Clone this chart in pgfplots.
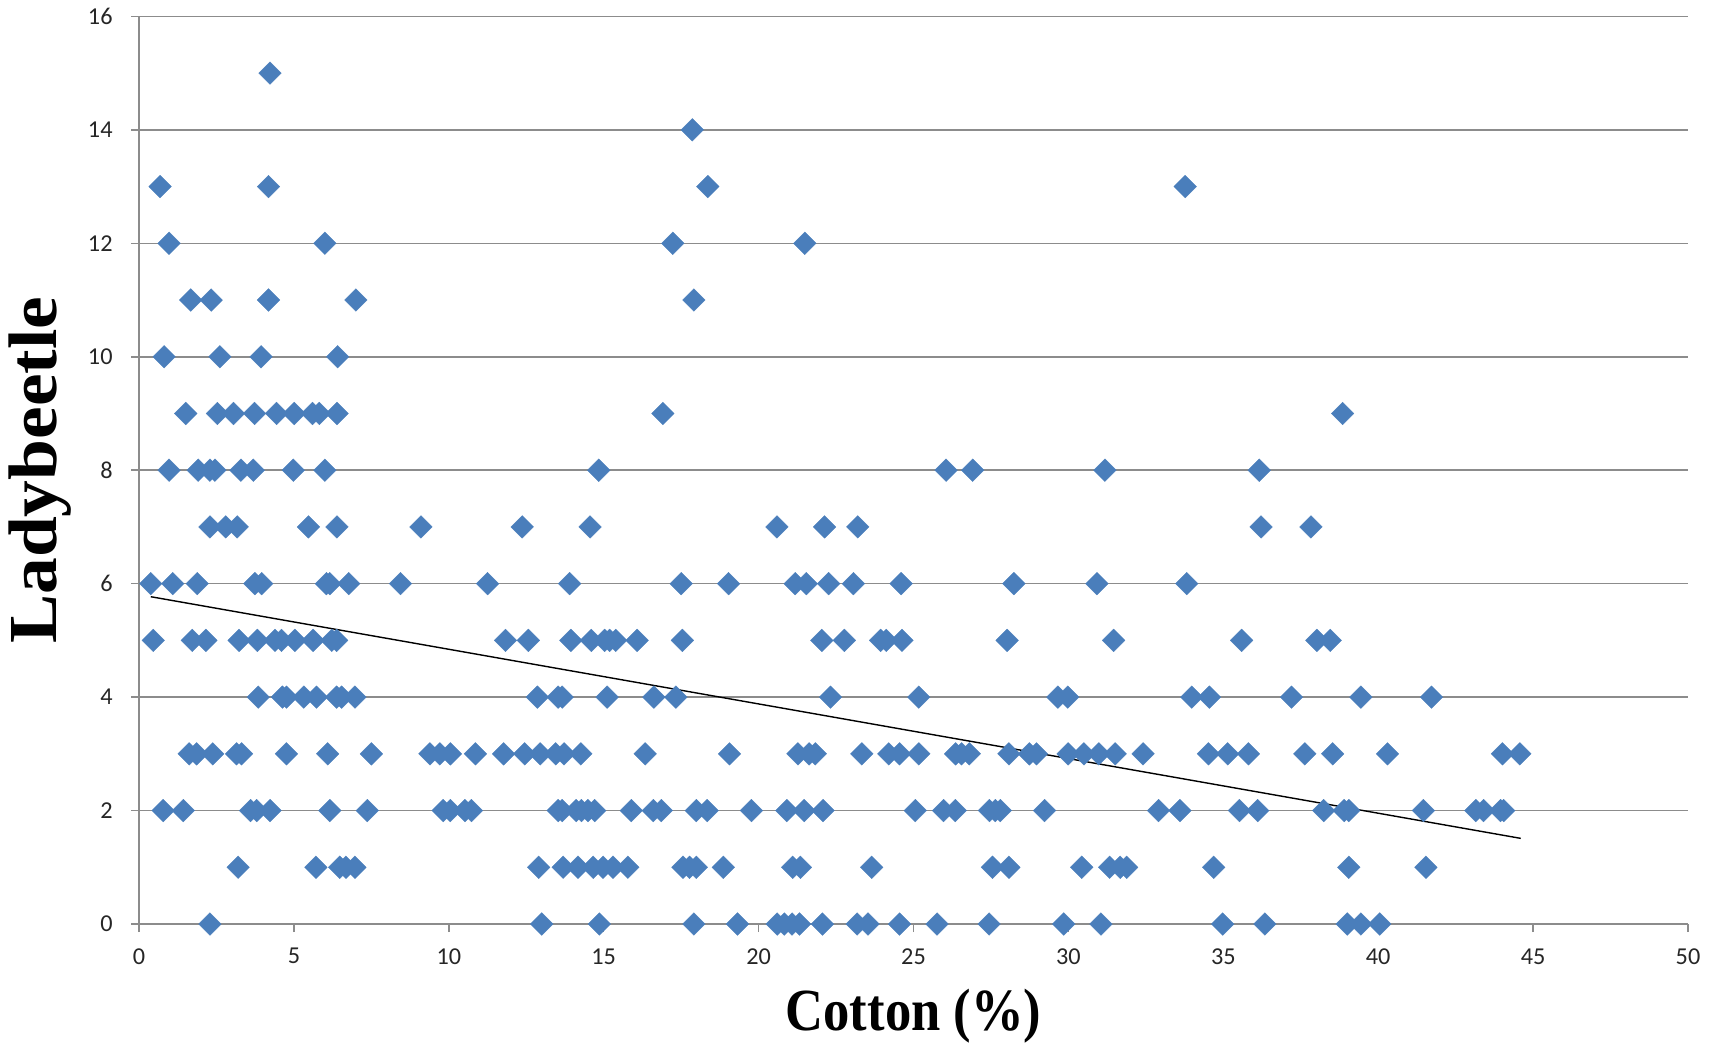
\documentclass[border=0pt]{standalone}
\usepackage{fontspec}
\usepackage{graphicx}
\usepackage{pgfplots}
\pgfplotsset{compat=1.18}
\setmainfont{Liberation Serif}
\newfontfamily\calibri{Carlito}
\definecolor{markblue}{HTML}{4A7EBB}
\definecolor{gridgray}{HTML}{8C8C8C}
\begin{document}
\begin{tikzpicture}
\begin{axis}[
  scale only axis,
  width=154.9mm, height=90.76mm,
  xmin=0, xmax=50, ymin=0, ymax=16,
  xtick={0,5,...,50}, ytick={0,2,...,16},
  axis x line=bottom, axis y line=left,
  axis line style={-, draw=gridgray, line width=0.45pt},
  ymajorgrids=true,
  grid style={draw=gridgray, line width=0.45pt},
  tick align=outside, major tick length=0.8mm,
  tick style={draw=gridgray, line width=0.45pt},
  /pgf/number format/assume math mode=true,
  ticklabel style={font=\calibri\fontsize{6.9}{8}\selectfont, text=black!85},
  xticklabel style={yshift=-0.4mm},
  yticklabel style={xshift=-0.6mm},
  xlabel={\scalebox{0.88}[1]{Cotton (\%)}},
  ylabel={\scalebox{1.23}[1.15]{Ladybeetle}},
  label style={font=\fontsize{17}{20}\selectfont\bfseries},
  xlabel style={at={(axis description cs:0.5,0)}, anchor=center, yshift=-9.2mm},
  ylabel style={at={(axis description cs:-0.0636,0.5)}, anchor=center},
]
\coordinate (ll) at (rel axis cs:0,0);
\coordinate (ur) at (rel axis cs:1,1);
\addplot[only marks, mark=square*, mark size=0.8mm,
  mark options={rotate=45, fill=markblue, draw=markblue, line width=0.1pt}]
coordinates {
(4.23,15)
(17.86,14)
(0.68,13) (4.18,13) (18.36,13) (33.77,13)
(0.97,12) (6.0,12) (17.23,12) (21.49,12)
(1.67,11) (2.33,11) (4.18,11) (7.0,11) (17.91,11)
(0.81,10) (2.61,10) (3.94,10) (6.41,10)
(1.51,9) (2.53,9) (3.05,9) (3.73,9) (4.44,9) (5.01,9) (5.6,9) (5.82,9) (6.39,9) (16.91,9) (38.85,9)
(0.97,8) (1.91,8) (2.29,8) (2.45,8) (3.29,8) (3.69,8) (4.98,8) (6.0,8) (14.84,8) (26.05,8) (26.91,8) (31.18,8) (36.16,8)
(2.29,7) (2.8,7) (3.17,7) (5.47,7) (6.39,7) (9.1,7) (12.37,7) (14.56,7) (20.59,7) (22.13,7) (23.2,7) (36.22,7) (37.83,7)
(0.38,6) (1.09,6) (1.88,6) (3.74,6) (3.96,6) (6.05,6) (6.16,6) (6.77,6) (8.44,6) (11.25,6) (13.9,6) (17.5,6) (19.03,6) (21.18,6) (21.54,6) (22.26,6) (23.06,6) (24.6,6) (28.24,6) (30.92,6) (33.82,6)
(0.46,5) (1.72,5) (2.16,5) (3.23,5) (3.82,5) (4.39,5) (4.6,5) (5.03,5) (5.62,5) (6.22,5) (6.38,5) (11.83,5) (12.57,5) (13.94,5) (14.6,5) (15.03,5) (15.19,5) (15.39,5) (16.08,5) (17.54,5) (22.04,5) (22.77,5) (23.94,5) (24.12,5) (24.63,5) (28.02,5) (31.46,5) (35.59,5) (38.02,5) (38.45,5)
(3.85,4) (4.63,4) (4.76,4) (5.32,4) (5.73,4) (6.38,4) (6.54,4) (6.97,4) (12.86,4) (13.53,4) (13.66,4) (15.11,4) (16.62,4) (17.33,4) (22.32,4) (25.17,4) (29.66,4) (29.98,4) (33.98,4) (34.55,4) (37.2,4) (39.44,4) (41.72,4)
(1.62,3) (1.86,3) (2.38,3) (3.15,3) (3.31,3) (4.76,3) (6.09,3) (7.5,3) (9.39,3) (9.71,3) (10.05,3) (10.86,3) (11.77,3) (12.45,3) (12.95,3) (13.45,3) (13.72,3) (14.26,3) (16.34,3) (19.06,3) (21.27,3) (21.63,3) (21.83,3) (23.33,3) (24.2,3) (24.55,3) (25.17,3) (26.36,3) (26.55,3) (26.8,3) (28.08,3) (28.74,3) (28.97,3) (29.99,3) (30.5,3) (30.98,3) (31.51,3) (32.41,3) (34.52,3) (35.14,3) (35.81,3) (37.63,3) (38.53,3) (40.3,3) (44.01,3) (44.57,3)
(0.78,2) (1.43,2) (3.6,2) (3.8,2) (4.23,2) (6.16,2) (7.37,2) (9.82,2) (10.05,2) (10.52,2) (10.73,2) (13.53,2) (13.66,2) (14.11,2) (14.28,2) (14.49,2) (14.71,2) (15.89,2) (16.6,2) (16.86,2) (17.99,2) (18.34,2) (19.77,2) (20.91,2) (21.47,2) (22.08,2) (25.06,2) (25.97,2) (26.35,2) (27.45,2) (27.64,2) (27.8,2) (29.23,2) (32.91,2) (33.6,2) (35.52,2) (36.11,2) (38.24,2) (38.9,2) (39.05,2) (41.46,2) (43.15,2) (43.4,2) (43.95,2) (44.05,2)
(3.2,1) (5.71,1) (6.48,1) (6.68,1) (6.97,1) (12.9,1) (13.69,1) (14.17,1) (14.66,1) (14.98,1) (15.3,1) (15.78,1) (17.56,1) (17.77,1) (17.99,1) (18.86,1) (21.1,1) (21.35,1) (23.65,1) (27.55,1) (28.08,1) (30.43,1) (31.33,1) (31.67,1) (31.88,1) (34.69,1) (39.05,1) (41.54,1)
(2.29,0) (13.0,0) (14.86,0) (17.91,0) (19.32,0) (20.6,0) (20.83,0) (21.08,0) (21.32,0) (22.06,0) (23.18,0) (23.53,0) (24.55,0) (25.76,0) (27.44,0) (29.85,0) (31.05,0) (34.98,0) (36.34,0) (39.0,0) (39.44,0) (40.05,0)
};
\addplot[black, line width=0.4pt, no marks] coordinates {(0.38,5.77) (44.6,1.51)};
\end{axis}
\pgfresetboundingbox
\path[use as bounding box] ([xshift=-13.9mm,yshift=-11.8mm]ll) rectangle ([xshift=2.9mm,yshift=1.64mm]ur);
\end{tikzpicture}
\end{document}
